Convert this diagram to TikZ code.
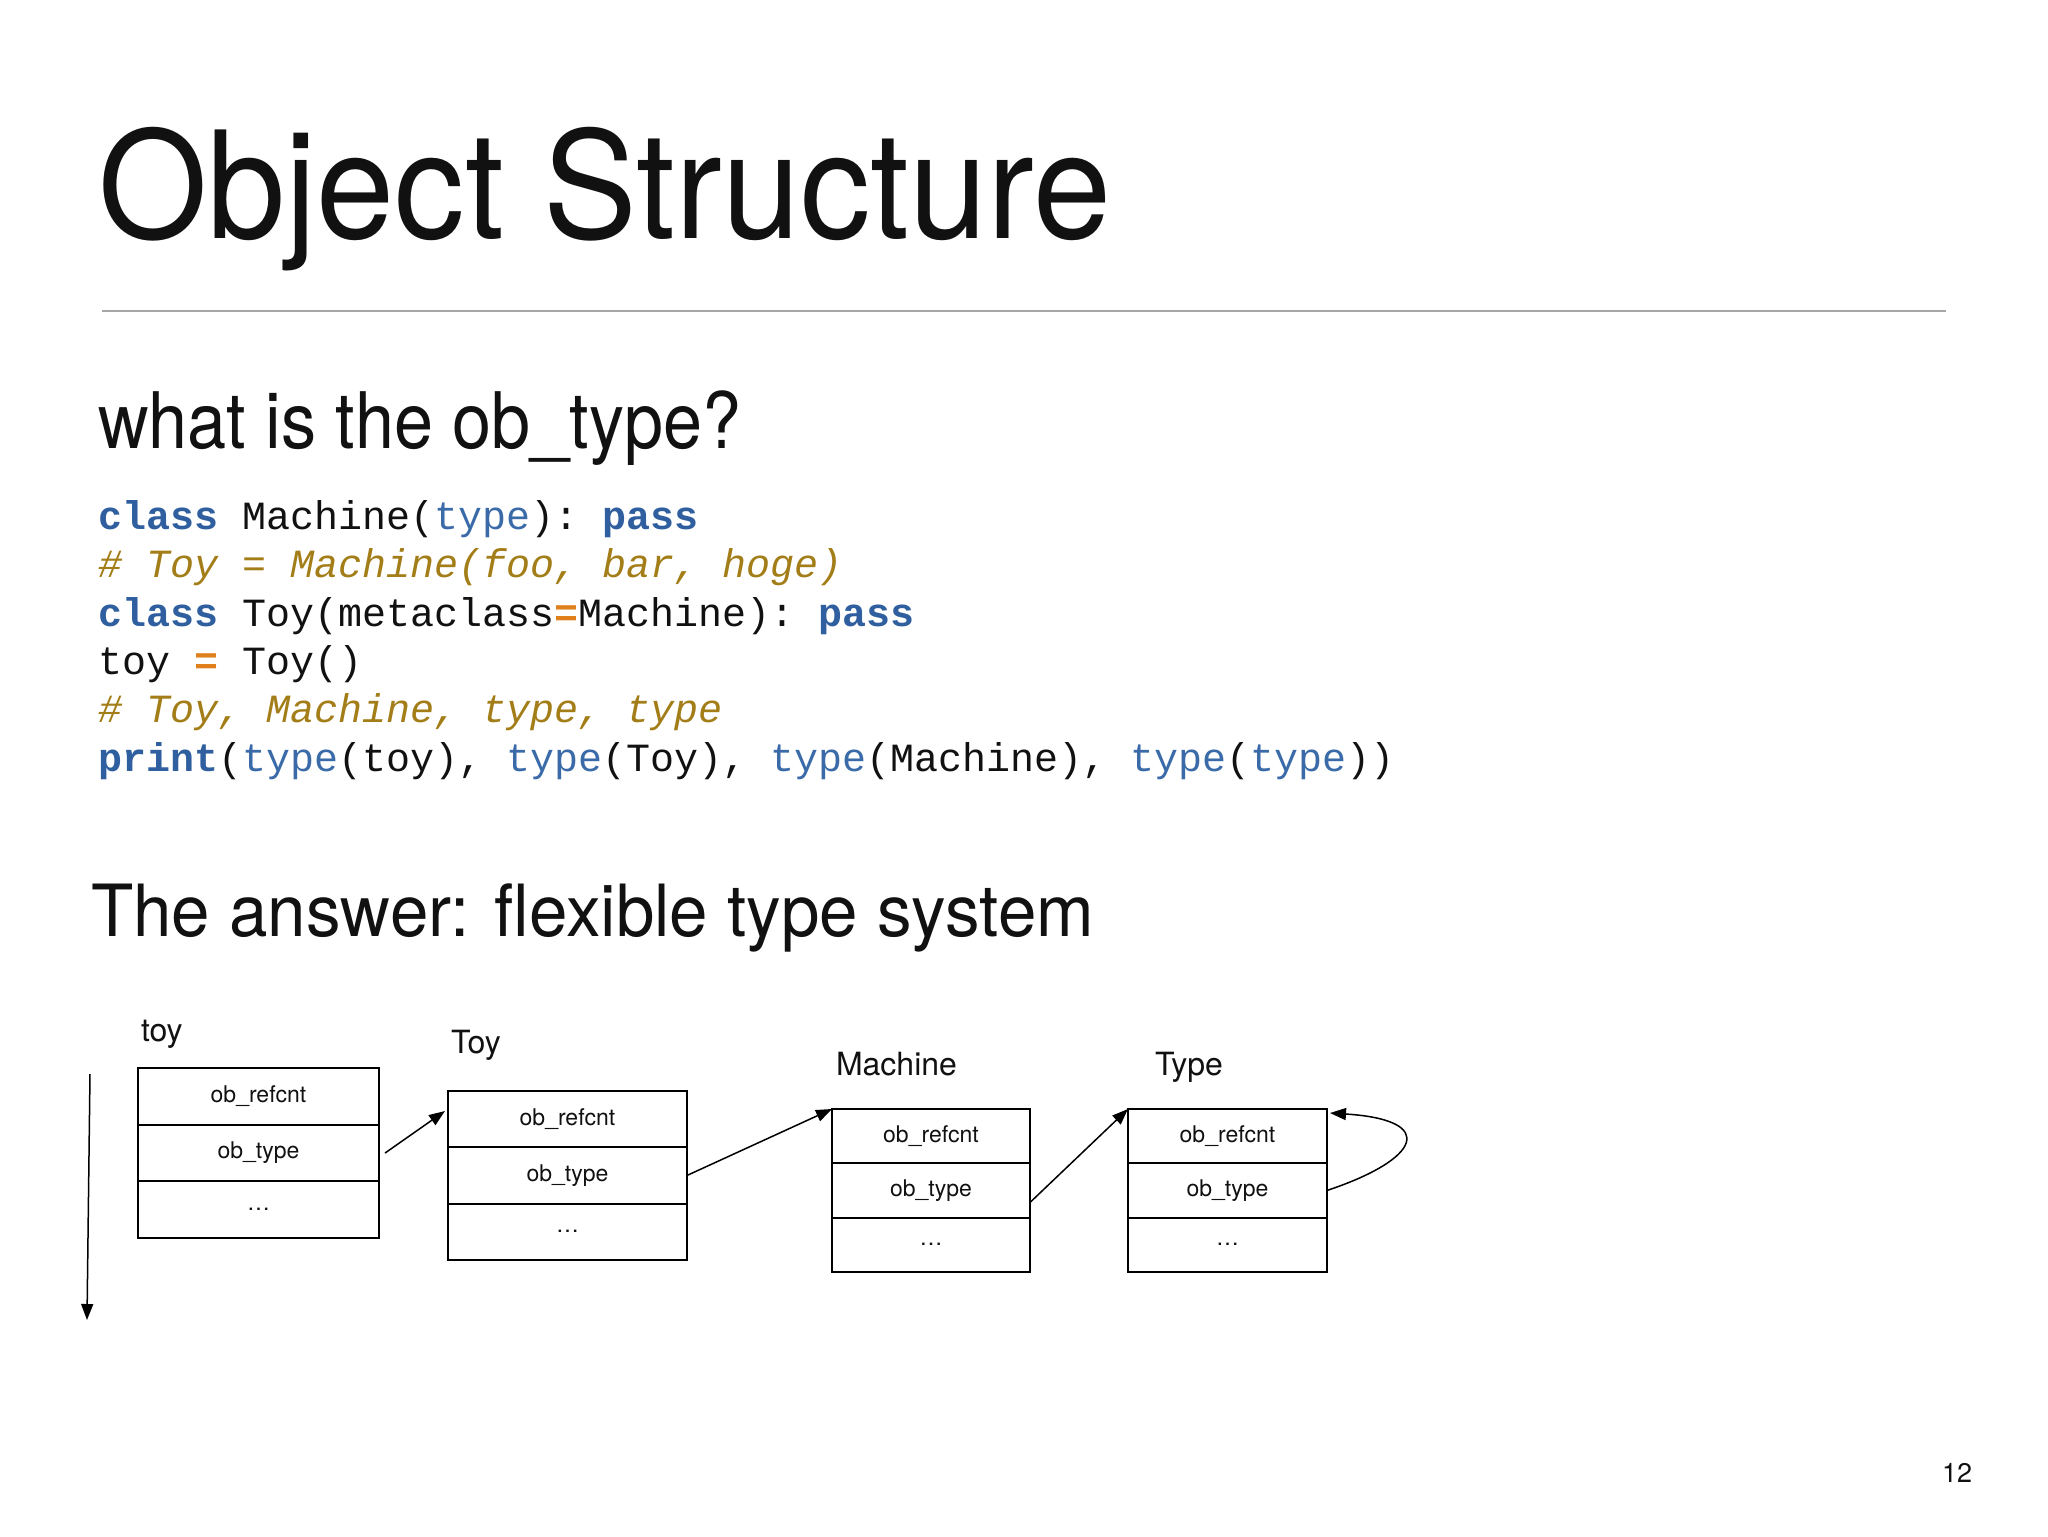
\documentclass[tikz,border=0pt]{standalone}
\usepackage{fontspec}
\usepackage{graphicx}
\setmainfont{TeX Gyre Heros}
\newfontfamily\codefont{Liberation Mono}
\usetikzlibrary{arrows.meta,calc}
\definecolor{kwblue}{HTML}{2F5F9E}
\definecolor{tyblue}{HTML}{3A6BA8}
\definecolor{cmgold}{HTML}{A37D17}
\definecolor{eqorange}{HTML}{E0801C}
\definecolor{rulegray}{HTML}{A6A6A6}
\definecolor{ink}{HTML}{111111}
\newcommand{\kw}[1]{{\bfseries\color{kwblue}#1}}
\newcommand{\ty}[1]{{\color{tyblue}#1}}
\newcommand{\cm}[1]{{\itshape\color{cmgold}#1}}
\newcommand{\eqo}{{\bfseries\color{eqorange}=}}
\tikzset{
  txt/.style={anchor=base west, inner sep=0, outer sep=0, text=ink},
  codeline/.style={txt, font=\codefont\frenchspacing\fontsize{20pt}{24pt}\selectfont},
  lbl/.style={txt, font=\fontsize{16pt}{19pt}\selectfont},
  cell/.style={draw, line width=1pt, inner sep=0, outer sep=0, anchor=north west, text=ink,
    font=\fontsize{11.5pt}{13pt}\selectfont},
  conn/.style={-{Triangle[length=8pt,width=6pt]}, line width=0.75pt},
}
\begin{document}
\begin{tikzpicture}[x=0.5pt,y=-0.5pt]
\useasboundingbox (0,0) rectangle (2048,1536);
% title
\node[txt] (title) at (98,238) {\fontsize{74.5pt}{80pt}\selectfont\scalebox{0.943}[1]{Object Structure}};
\coordinate (ruleL) at (102,311);
\coordinate (ruleR) at (1946,311);
\draw[rulegray, line width=1.2pt] (ruleL) -- (ruleR);
% question
\node[txt] (q) at (98,448) {\fontsize{39pt}{44pt}\selectfont\scalebox{0.9}[1]{what is the ob\_type?}};
% code
\node[codeline] (c1) at (98,529) {\kw{class} Machine(\ty{type}): \kw{pass}};
\node[codeline] (c2) at (98,577) {\cm{\# Toy = Machine(foo, bar, hoge)}};
\node[codeline] (c3) at (98,626) {\kw{class} Toy(metaclass\eqo Machine): \kw{pass}};
\node[codeline] (c4) at (98,674) {toy \eqo{} Toy()};
\node[codeline] (c5) at (98,722) {\cm{\# Toy, Machine, type, type}};
\node[codeline] (c6) at (98,771) {\kw{print}(\ty{type}(toy), \ty{type}(Toy), \ty{type}(Machine), \ty{type}(\ty{type}))};
% answer
\node[txt] (ans) at (91,936) {\fontsize{36pt}{40pt}\selectfont\scalebox{0.96}[1]{The answer: flexible type system}};
% labels
\node[lbl] (ltoy) at (141,1041) {toy};
\node[lbl] (lToy) at (451,1053) {Toy};
\node[lbl] (lMa) at (836,1075) {Machine};
\node[lbl] (lTp) at (1155,1075) {Type};
% toy box
\node[cell, minimum width=120.5pt, minimum height=28.35pt] (toyA) at (138,1068) {ob\_refcnt};
\node[cell, minimum width=120.5pt, minimum height=28.35pt] (toyB) at (toyA.south west) {ob\_type};
\node[cell, minimum width=120.5pt, minimum height=28.35pt] (toyC) at (toyB.south west) {\ldots};
% Toy box
\node[cell, minimum width=119.5pt, minimum height=28.15pt] (TyA) at (448,1091) {ob\_refcnt};
\node[cell, minimum width=119.5pt, minimum height=28.15pt] (TyB) at (TyA.south west) {ob\_type};
\node[cell, minimum width=119.5pt, minimum height=28.15pt] (TyC) at (TyB.south west) {\ldots};
% Machine box
\node[cell, minimum width=99pt, minimum height=27.15pt] (MaA) at (832,1109) {ob\_refcnt};
\node[cell, minimum width=99pt, minimum height=27.15pt] (MaB) at (MaA.south west) {ob\_type};
\node[cell, minimum width=99pt, minimum height=27.15pt] (MaC) at (MaB.south west) {\ldots};
% Type box
\node[cell, minimum width=99.5pt, minimum height=27.15pt] (TpA) at (1128,1109) {ob\_refcnt};
\node[cell, minimum width=99.5pt, minimum height=27.15pt] (TpB) at (TpA.south west) {ob\_type};
\node[cell, minimum width=99.5pt, minimum height=27.15pt] (TpC) at (TpB.south west) {\ldots};
% arrows
\coordinate (vtop) at (90,1074);
\coordinate (vbot) at (87,1320);
\draw[conn] (vtop) -- (vbot);
\draw[conn] ($(toyB.east)+(6,0)$) -- ($(TyA.north west)+(-3,20)$);
\draw[conn] (TyB.east) -- (MaA.north west);
\draw[conn] ($(MaB.east)+(0,12)$) -- (TpA.north west);
\draw[conn] (TpB.east) .. controls +(93,-31) and +(109,7) .. ($(TpA.north east)+(3,4)$);
% page number
\node[txt, font=\fontsize{13.5pt}{16pt}\selectfont] (pg) at (1942,1482) {12};
\end{tikzpicture}
\end{document}
